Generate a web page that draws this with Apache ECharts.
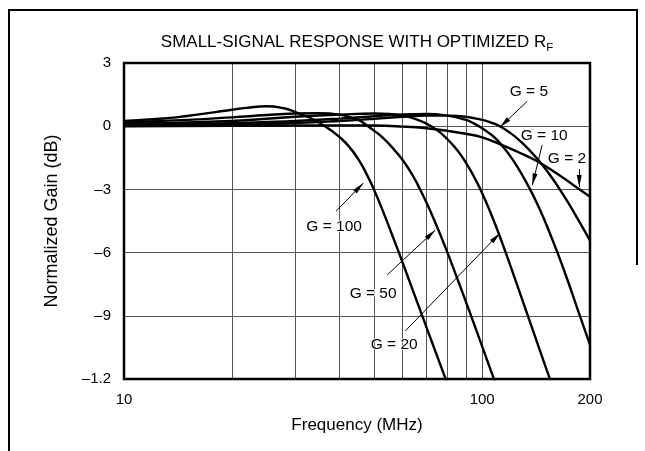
<!DOCTYPE html>
<html>
<head>
<meta charset="utf-8">
<script src="https://cdn.jsdelivr.net/npm/echarts@6/dist/echarts.min.js"></script>
<style>
  html, body { margin: 0; padding: 0; background: #fff; }
  #main { width: 645px; height: 451px; }
</style>
</head>
<body>
<div id="main"></div>
<script>
// frequency (MHz) and normalized gain (dB)
const freqG2 = [10, 20, 30, 40, 50, 60, 70, 80, 90, 100, 112, 125, 142, 160, 180, 200];
const gainG2 = [0.0, 0.02, 0.03, 0.04, 0.03, -0.02, -0.1, -0.22, -0.36, -0.53, -0.85, -1.2, -1.65, -2.2, -2.8, -3.35];

const freqG5 = [10, 20, 30, 40, 50, 60, 70, 80, 90, 100, 106, 112, 120, 128, 136, 145, 155, 165, 175, 185, 193, 200];
const gainG5 = [0.03, 0.07, 0.15, 0.25, 0.35, 0.45, 0.5, 0.5, 0.45, 0.3, 0.17, 0.0, -0.33, -0.72, -1.17, -1.7, -2.34, -3.02, -3.71, -4.41, -4.96, -5.44];

const freqG10 = [10, 20, 30, 40, 50, 60, 70, 80, 90, 95, 100, 105, 110, 116, 121, 126, 132, 138, 145, 153, 162, 172, 184, 200];
const gainG10 = [0.07, 0.14, 0.25, 0.36, 0.47, 0.56, 0.58, 0.5, 0.3, 0.12, -0.1, -0.35, -0.65, -1.11, -1.53, -1.99, -2.58, -3.2, -3.97, -4.9, -5.97, -7.17, -8.61, -10.38];

const freqG20 = [10, 20, 30, 40, 50, 55, 60, 65, 70, 75, 80, 85, 88, 92, 96, 100, 105, 110, 116, 123, 131, 140, 148, 155];
const gainG20 = [0.12, 0.25, 0.45, 0.55, 0.6, 0.58, 0.5, 0.35, 0.12, -0.2, -0.62, -1.12, -1.47, -1.99, -2.56, -3.18, -4.01, -4.88, -5.94, -7.16, -8.5, -9.91, -11.09, -12.07];

const freqG50 = [10, 15, 20, 25, 30, 35, 40, 45, 48, 50, 52, 55, 58, 61, 64, 67, 70, 73.5, 77, 80.5, 85, 92, 99, 106, 110];
const gainG50 = [0.18, 0.3, 0.42, 0.53, 0.6, 0.62, 0.55, 0.3, 0.0, -0.22, -0.45, -0.85, -1.3, -1.78, -2.34, -2.98, -3.65, -4.46, -5.29, -6.12, -7.18, -8.76, -10.25, -11.65, -12.4];

const freqG100 = [10, 12, 14, 16, 18, 20, 22, 25, 28, 30, 33, 35, 38, 40, 42.5, 45, 47.5, 50, 53, 56, 60, 64, 68, 73, 78, 80];
const gainG100 = [0.25, 0.33, 0.42, 0.55, 0.67, 0.78, 0.87, 0.95, 0.85, 0.68, 0.4, 0.18, -0.22, -0.52, -0.97, -1.54, -2.25, -3.05, -4.09, -5.14, -6.49, -7.78, -8.99, -10.41, -11.73, -12.23];

const yTickValues = [-12, -9, -6, -3, 0, 3];
const yTickLabels = ['–1.2', '–9', '–6', '–3', '0', '3'];
const xGridFreqs = [20, 30, 40, 50, 60, 70, 80, 90, 100];

// callouts: text spot and arrow (from -> tip), in MHz / dB
const calloutNames = ['G = 5', 'G = 10', 'G = 2', 'G = 100', 'G = 50', 'G = 20'];
const calloutAt = [[135, 1.66], [149, -0.47], [172.5, -1.56], [38.6, -4.75], [49.6, -7.95], [56.8, -10.35]];
const arrowFrom = [[133.6, 1.18], [147, -0.9], [186.6, -2.04], [39.1, -4.03], [54.3, -7.06], [61, -9.72]];
const arrowTo = [[112, -0.05], [138, -2.8], [186.6, -2.89], [46.6, -2.7], [74, -4.93], [112.2, -5.07]];

const FONT = 'Liberation Sans, Arial, sans-serif';
// arrow head with its tip in the middle of the symbol box
const ARROW_HEAD = 'path://M5,0L5,0.01M5,24L10,48L0,48Z';

function pairs (xs, ys) {
  return xs.map((x, i) => [x, ys[i]]);
}

function curve (name, xs, ys) {
  return {
    name: name,
    type: 'line',
    data: pairs(xs, ys),
    showSymbol: false,
    smooth: 0.5,
    silent: true,
    lineStyle: { color: '#000', width: 2.4 },
    z: 3
  };
}

const myChart = echarts.init(document.getElementById('main'));

const series = [
  curve('G = 2', freqG2, gainG2),
  curve('G = 5', freqG5, gainG5),
  curve('G = 10', freqG10, gainG10),
  curve('G = 20', freqG20, gainG20),
  curve('G = 50', freqG50, gainG50),
  curve('G = 100', freqG100, gainG100)
];

// vertical grid lines at 20..100 MHz
series[0].markLine = {
  silent: true,
  symbol: ['none', 'none'],
  z: 1,
  label: { show: false },
  lineStyle: { color: '#555', width: 1, type: 'solid' },
  data: xGridFreqs.map(f => ({ xAxis: f }))
};

// callout arrows
series[1].markLine = {
  silent: true,
  symbol: ['none', ARROW_HEAD],
  symbolSize: 24,
  symbolKeepAspect: true,
  z: 6,
  label: { show: false },
  itemStyle: { color: '#000' },
  lineStyle: { color: '#000', width: 1, type: 'solid' },
  data: arrowFrom.map((p, i) => [{ coord: p }, { coord: arrowTo[i] }])
};

// callout texts
series[2].markPoint = {
  silent: true,
  symbol: 'circle',
  symbolSize: 0,
  itemStyle: { color: 'transparent' },
  label: {
    show: true,
    position: 'inside',
    formatter: '{b}',
    color: '#000',
    fontSize: 15.5,
    fontFamily: FONT,
    textBorderColor: '#fff',
    textBorderWidth: 2
  },
  data: calloutNames.map((n, i) => ({ name: n, coord: calloutAt[i] }))
};

const option = {
  backgroundColor: '#fff',
  animation: false,
  title: {
    text: 'SMALL-SIGNAL RESPONSE WITH OPTIMIZED R{s|F}',
    left: 357,
    top: 31,
    padding: 0,
    textAlign: 'center',
    textStyle: {
      fontSize: 17,
      fontWeight: 'normal',
      color: '#000',
      fontFamily: FONT,
      lineHeight: 23,
      rich: {
        s: { fontSize: 11.5, fontFamily: FONT, color: '#000', lineHeight: 10, verticalAlign: 'bottom' }
      }
    }
  },
  graphic: [
    {
      type: 'polyline',
      shape: { points: [[9, 451], [9, 10], [637, 10], [637, 265]] },
      style: { stroke: '#000', lineWidth: 2, fill: null },
      silent: true
    }
  ],
  grid: {
    left: 124,
    right: 55,
    top: 63,
    bottom: 72,
    show: true,
    borderColor: '#000',
    borderWidth: 2.5,
    backgroundColor: 'transparent',
    z: 10
  },
  xAxis: {
    type: 'log',
    logBase: 10,
    min: 10,
    max: 200,
    name: 'Frequency (MHz)',
    nameLocation: 'middle',
    nameGap: 38,
    nameTextStyle: { fontSize: 17, color: '#000', fontFamily: FONT },
    axisLine: { show: false },
    axisTick: { show: false },
    splitLine: { show: false },
    minorTick: { show: false },
    axisLabel: {
      margin: 13,
      fontSize: 15,
      color: '#000',
      fontFamily: FONT,
      formatter: v => String(Math.round(v))
    }
  },
  yAxis: {
    type: 'value',
    min: -12,
    max: 3,
    interval: 3,
    name: 'Normalized Gain (dB)',
    nameLocation: 'middle',
    nameGap: 63,
    nameTextStyle: { fontSize: 18, color: '#000', fontFamily: FONT },
    axisLine: { show: false },
    axisTick: { show: false },
    splitLine: {
      show: true,
      showMinLine: false,
      showMaxLine: false,
      lineStyle: { color: '#555', width: 1 }
    },
    axisLabel: {
      margin: 13,
      fontSize: 15,
      color: '#000',
      fontFamily: FONT,
      formatter: v => yTickLabels[yTickValues.indexOf(v)]
    }
  },
  series: series
};

myChart.setOption(option);
</script>
</body>
</html>
